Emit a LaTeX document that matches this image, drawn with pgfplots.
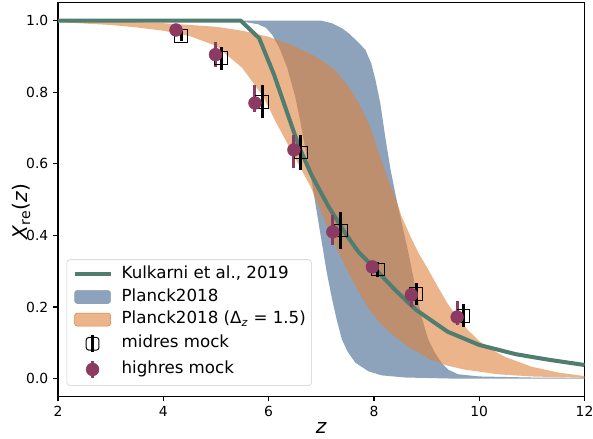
\documentclass[border=0pt]{standalone}
\usepackage{fontspec}
\setmainfont{DejaVu Sans}
\usepackage{pgfplots}
\pgfplotsset{compat=1.18}
\usepgfplotslibrary{fillbetween}
\definecolor{bandblue}{RGB}{140,163,187}
\definecolor{bandorange}{RGB}{222,130,60}
\definecolor{kgreen}{RGB}{80,125,112}
\definecolor{hpurple}{RGB}{139,58,98}
\begin{document}
\begin{tikzpicture}
\begin{axis}[
  scale only axis, width=379.1pt, height=283.5pt,
  xmin=2, xmax=12, ymin=-0.05, ymax=1.05,
  xtick={2,4,6,8,10,12}, ytick={0,0.2,0.4,0.6,0.8,1.0},
  tick align=outside, major tick length=3.5pt, tick pos=left,
  axis line style={line width=0.8pt},
  tick style={line width=0.8pt, black},
  /pgf/number format/assume math mode=true,
  ticklabel style={font=\fontsize{10}{12}\selectfont},
  yticklabel style={/pgf/number format/.cd, fixed, fixed zerofill, precision=1},
  xlabel={\textit{z}},
  ylabel={\textit{X}\textsubscript{re}(\textit{z})},
  label style={font=\fontsize{14.5}{16}\selectfont},
  xlabel style={at={(axis description cs:0.5,-0.08)}, anchor=center},
  ylabel style={at={(axis description cs:-0.07,0.47)}, anchor=center},
  legend cell align=left,
  legend style={at={(0.0164,0.027)}, anchor=south west, draw=black!20, rounded corners=2pt, fill=white,
    font=\fontsize{12}{14}\selectfont, row sep=4.3pt, column sep=6.5pt, inner xsep=4pt, inner ysep=4.5pt,
    nodes={inner sep=0pt, text height=9pt, text depth=3pt}},
]
% Planck2018 band edges
\addplot[name path=bhi, draw=none, forget plot] coordinates {
(2,1) (7.0,1) (7.2,0.993) (7.4,0.978) (7.52,0.965) (7.7,0.94) (7.84,0.918) (7.95,0.88) (8.03,0.834)
(8.12,0.77) (8.22,0.67) (8.32,0.58) (8.43,0.50) (8.55,0.42) (8.65,0.355) (8.78,0.26) (8.9,0.175)
(9.03,0.11) (9.16,0.072) (9.28,0.045) (9.41,0.025) (9.6,0.012) (10,0.006) (11,0.003) (12,0.002)};
\addplot[name path=blo, draw=none, forget plot] coordinates {
(2,1) (5.4,1) (5.6,0.995) (5.8,0.99) (5.95,0.98) (6.07,0.96) (6.2,0.925) (6.35,0.87) (6.5,0.79)
(6.6,0.72) (6.7,0.64) (6.82,0.55) (6.92,0.46) (7.01,0.38) (7.1,0.30) (7.2,0.225) (7.3,0.16)
(7.39,0.11) (7.5,0.075) (7.65,0.044) (7.9,0.02) (8.15,0.009) (8.6,0.003) (9.5,0) (12,0)};
\addplot[fill=bandblue, draw=none, forget plot] fill between[of=bhi and blo];
% Planck2018 Delta z = 1.5 band edges
\addplot[name path=ohi, draw=none, forget plot] coordinates {
(2,1.0) (3,0.998) (4,0.993) (4.5,0.988) (5,0.983) (5.5,0.972) (6.0,0.955) (6.5,0.928) (6.82,0.905)
(7.05,0.885) (7.27,0.86) (7.5,0.82) (7.65,0.785) (7.8,0.745) (7.95,0.695) (8.07,0.64) (8.2,0.585)
(8.3,0.545) (8.43,0.495) (8.52,0.455) (8.7,0.395) (8.85,0.35) (9.03,0.305) (9.2,0.26) (9.41,0.207)
(9.6,0.168) (9.79,0.135) (10.0,0.105) (10.17,0.086) (10.5,0.06) (11,0.033) (11.5,0.017) (12,0.007)};
\addplot[name path=olo, draw=none, forget plot] coordinates {
(2,0.996) (3,0.988) (3.5,0.981) (4,0.972) (4.5,0.957) (5,0.93) (5.5,0.868) (5.9,0.787) (6.15,0.713)
(6.4,0.645) (6.6,0.59) (6.8,0.535) (7.0,0.465) (7.27,0.37) (7.5,0.3) (7.7,0.245) (7.9,0.195)
(8.1,0.158) (8.3,0.128) (8.65,0.089) (9.09,0.052) (9.4,0.036) (9.73,0.025) (10.36,0.012) (11,0.006) (12,0.002)};
\addplot[fill=bandorange, fill opacity=0.6, draw=none, forget plot] fill between[of=ohi and olo];
% Kulkarni et al. 2019
\addplot[kgreen, line width=2.9pt, line join=round, forget plot] coordinates {
(2,1) (5.47,1) (5.82,0.951) (6.1,0.85) (6.3,0.765) (6.5,0.68) (6.6,0.64) (6.82,0.567) (7.14,0.48)
(7.46,0.405) (7.7,0.355) (8.0,0.31) (8.4,0.248) (8.8,0.192) (9.4,0.131) (10.0,0.094) (10.7,0.068)
(11.35,0.052) (12,0.038)};
% midres mock
\addplot[black, only marks, mark=square, mark size=4.6pt, mark options={draw=black, line width=0.7pt, fill=none}, forget plot,
  error bars/.cd, y dir=both, y explicit, error mark=none, error bar style={line width=2.2pt, black}]
  coordinates {
(4.34,0.957) +- (0,0.014)
(5.10,0.895) +- (0,0.032)
(5.88,0.773) +- (0,0.046)
(6.61,0.632) +- (0,0.048)
(7.37,0.414) +- (0,0.052)
(8.07,0.305) +- (0,0.02)
(8.80,0.237) +- (0,0.03)
(9.70,0.176) +- (0,0.032)};
% highres mock
\addplot[hpurple, only marks, mark=*, mark size=4.6pt, mark options={draw=none, fill=hpurple}, forget plot,
  error bars/.cd, y dir=both, y explicit, error mark=none, error bar style={line width=2.2pt, hpurple}]
  coordinates {
(4.24,0.974) += (0,0.01) -= (0,0.01)
(4.99,0.905) += (0,0.035) -= (0,0.035)
(5.74,0.770) += (0,0.05) -= (0,0.025)
(6.48,0.639) += (0,0.041) -= (0,0.051)
(7.22,0.410) += (0,0.047) -= (0,0.037)
(7.97,0.312) += (0,0.01) -= (0,0.01)
(8.71,0.234) += (0,0.02) -= (0,0.034)
(9.58,0.172) += (0,0.045) -= (0,0.022)};
\addlegendimage{legend image code/.code={\draw[kgreen, line width=2.9pt] (0pt,0pt)--(26pt,0pt);}}
\addlegendentry{Kulkarni et al., 2019}
\addlegendimage{legend image code/.code={\fill[bandblue] (0pt,-4.7pt) rectangle (26pt,4.7pt);}}
\addlegendentry{Planck2018}
\addlegendimage{legend image code/.code={\fill[bandorange, fill opacity=0.6] (0pt,-4.7pt) rectangle (26pt,4.7pt);}}
\addlegendentry{Planck2018 (Δ\textsubscript{\textit{z}} = 1.5)}
\addlegendimage{legend image code/.code={\draw[black, line width=2.2pt] (13pt,-6pt)--(13pt,6pt); \draw[black, line width=0.7pt] (8.4pt,-4.6pt) rectangle (17.6pt,4.6pt);}}
\addlegendentry{midres mock}
\addlegendimage{legend image code/.code={\draw[hpurple, line width=2.2pt] (13pt,-6pt)--(13pt,6pt); \fill[hpurple] (13pt,0pt) circle (4.6pt);}}
\addlegendentry{highres mock}
\end{axis}
\pgfresetboundingbox
\path ([shift={(-41.8pt,-30.5pt)}]current axis.south west) rectangle ([shift={(6.1pt,2pt)}]current axis.north east);
\end{tikzpicture}
\end{document}
